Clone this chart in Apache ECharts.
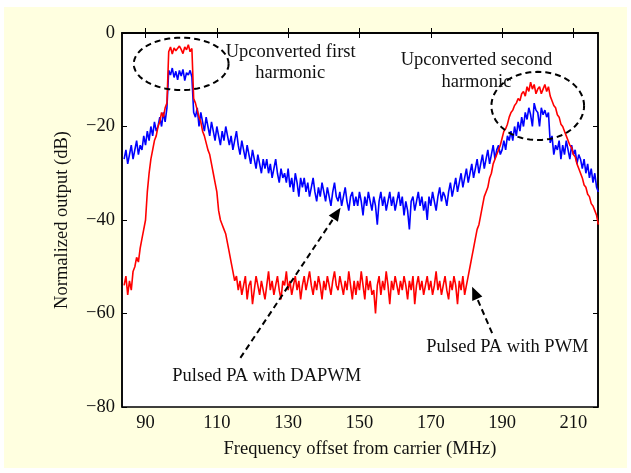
<!DOCTYPE html>
<html><head><meta charset="utf-8">
<script src="https://cdn.jsdelivr.net/npm/echarts@6/dist/echarts.min.js"></script>
<style>html,body{margin:0;padding:0;background:#fff}#c{width:631px;height:473px}</style>
</head><body><div id="c"></div>
<script>
// Spectrum sampled every 0.5 MHz from 84 MHz
const freqStart = 84, freqStep = 0.5;
// Pulsed PA with PWM (red), dB
const pwmDb = [
-54,-52,-56,-53,-55,-51,-50,-48,-49,-46,
-44,-42,-40,-34,-30,-27,-25,-23,-22,-20,
-19,-17,-18,-16,-15,-4,-3,-4.5,-3.2,-3.8,
-4.2,-2.8,-3.5,-4.4,-3,-3.6,-2.5,-4,-3.3,-14,
-15,-16.5,-18,-19,-21,-22,-23.5,-25,-26,-28,
-30,-32,-34,-38,-40,-41,-42,-43,-45,-47,
-49,-51,-53,-52,-55,-53,-56,-54,-52,-57,
-54,-53,-58,-55,-52,-54,-56,-53,-55,-57,
-54,-51,-55,-53,-56,-54,-52,-55,-57,-53,
-54,-51,-55,-53,-56,-54,-52,-55,-53,-57,
-54,-52,-55,-53,-51,-54,-56,-53,-55,-52,
-54,-57,-53,-55,-52,-54,-56,-53,-51,-54,
-55,-52,-54,-56,-53,-55,-51,-54,-57,-53,
-56,-53,-55,-51,-54,-57,-52,-55,-53,-56,
-55,-60,-54,-52,-56,-53,-55,-51,-54,-58,
-53,-55,-52,-54,-56,-53,-55,-52,-54,-57,
-53,-55,-52,-58,-54,-52,-55,-53,-56,-54,
-52,-55,-53,-56,-54,-51,-55,-53,-56,-54,
-52,-55,-57,-53,-55,-52,-54,-58,-53,-55,
-52,-56,-54,-52,-50,-48,-46,-44,-42,-41,
-39,-37,-35,-34,-33,-31,-30,-28,-27,-26,
-25,-24,-22.5,-21,-20.5,-19.5,-18,-17,-16.5,-15.5,
-15,-14,-14.5,-13,-12.5,-13.5,-11.5,-12.5,-10.5,-12,
-11,-13,-12,-11.5,-13,-12,-11,-12.5,-11.5,-13.5,
-14.5,-15.5,-16,-17.5,-18,-19.5,-20,-21,-22,-23,
-24,-24.5,-26,-26.5,-28,-29,-30,-31,-32.5,-33,
-34.5,-35,-36.5,-37,-38,-39,-41
];
// Pulsed PA with DAPWM (blue), dB
const dapwmDb = [
-27,-25,-28,-26,-24,-27,-25,-23,-26,-24,
-25,-22,-24,-21,-23,-20,-22,-19,-21,-20,
-18,-20,-17,-19,-16,-8,-9,-7.5,-9.5,-8.2,
-10,-8,-9.2,-7.8,-10.2,-8.5,-9,-8,-9.4,-17,
-18,-16,-20,-17,-19,-21,-18,-20,-22,-19,
-21,-23,-20,-22,-24,-21,-23,-20,-22,-24,
-22,-25,-23,-21,-24,-26,-23,-25,-27,-24,
-26,-28,-25,-27,-29,-26,-28,-30,-27,-29,
-27,-30,-28,-31,-29,-27,-30,-32,-29,-31,
-30,-32,-29,-33,-31,-34,-30,-32,-35,-31,
-33,-31,-34,-32,-35,-33,-31,-34,-36,-33,
-35,-32,-34,-36,-33,-35,-37,-34,-32,-35,
-36,-34,-37,-35,-33,-36,-38,-35,-34,-37,
-35,-37,-34,-36,-39,-35,-37,-34,-36,-38,
-35,-37,-41,-36,-34,-37,-35,-38,-36,-34,
-37,-35,-38,-36,-34,-37,-35,-39,-36,-38,
-42,-36,-35,-38,-36,-34,-37,-35,-38,-36,
-40,-35,-37,-34,-36,-38,-35,-33,-36,-34,
-35,-37,-34,-32,-35,-33,-31,-34,-32,-30,
-33,-31,-29,-32,-30,-28,-31,-29,-27,-30,
-28,-26,-29,-27,-25,-28,-26,-24,-27,-25,
-24,-26,-25,-23,-25,-22,-23,-21,-23,-20,
-22,-19,-21,-18,-20,-17,-18.5,-16,-17.5,-20,
-15,-16.5,-17,-20,-16,-17.5,-16.5,-18,-17,-23.5,
-22,-26,-24,-25,-23,-27,-24,-26,-23,-25,
-27,-24,-26,-25,-28,-26,-27,-29,-27,-30,
-28,-31,-29,-32,-30,-33,-34
];
const xTicks = [90, 110, 130, 150, 170, 190, 210];
const xRange = [83.4, 216.9];
const yRange = [-80, 0];
const yStep = 20;
// Annotations in data units
const ellipses = [
  {cx: 100, cy: -6.6, rx: 13.3, ry: 5.6},
  {cx: 200, cy: -15.6, rx: 13.0, ry: 7.3}
];
const arrows = [
  {from: [116.6, -69.5], to: [144.7, -37.4]},
  {from: [187.2, -64.2], to: [181.6, -54.3]}
];
const notes = [
  {text: 'Upconverted first', at: [130.7, -4.1]},
  {text: 'harmonic', at: [130.6, -8.5]},
  {text: 'Upconverted second', at: [182.8, -5.8]},
  {text: 'harmonic', at: [182.8, -10.5]},
  {text: 'Pulsed PA with DAPWM', at: [124.0, -73.4]},
  {text: 'Pulsed PA with PWM', at: [191.5, -67.2]}
];

const FONT = "'Liberation Serif','Times New Roman',serif";
const FS = 18.5;
const toPairs = arr => arr.map((v, i) => [freqStart + i * freqStep, v]);
const minus = v => String(v).replace('-', '\u2212');

const chart = echarts.init(document.getElementById('c'), null, {renderer: 'canvas'});
const axisLineStyle = {color: '#000', width: 1.5};
const option = {
  animation: false,
  backgroundColor: '#ffffff',
  graphic: [{type: 'rect', z: -10, silent: true, shape: {x: 4, y: 7, width: 623, height: 461}, style: {fill: '#FFFFE0'}}],
  grid: {left: 122, right: 33, top: 33, bottom: 66, show: true, backgroundColor: '#fff', borderColor: '#000', borderWidth: 1.5},
  xAxis: [
    {type: 'value', min: xRange[0], max: xRange[1], position: 'bottom',
     name: 'Frequency offset from carrier (MHz)', nameLocation: 'middle', nameGap: 33,
     nameTextStyle: {fontFamily: FONT, fontSize: FS, color: '#111'},
     axisLine: {lineStyle: axisLineStyle},
     axisTick: {inside: true, length: 5, customValues: xTicks, lineStyle: {color: '#000'}},
     axisLabel: {customValues: xTicks, fontFamily: FONT, fontSize: FS, color: '#111', margin: 7},
     splitLine: {show: false}},
    {type: 'value', min: xRange[0], max: xRange[1], position: 'top',
     axisLine: {lineStyle: axisLineStyle},
     axisTick: {inside: true, length: 5, customValues: xTicks, lineStyle: {color: '#000'}},
     axisLabel: {show: false, customValues: xTicks}, splitLine: {show: false}}
  ],
  yAxis: [
    {type: 'value', min: yRange[0], max: yRange[1], interval: yStep, position: 'left',
     name: 'Normalized output (dB)', nameLocation: 'middle', nameGap: 50,
     nameTextStyle: {fontFamily: FONT, fontSize: FS, color: '#111'},
     axisLine: {show: true, lineStyle: axisLineStyle},
     axisTick: {show: true, inside: true, length: 5, lineStyle: {color: '#000'}},
     axisLabel: {formatter: minus, fontFamily: FONT, fontSize: FS, color: '#111', margin: 7},
     splitLine: {show: false}},
    {type: 'value', min: yRange[0], max: yRange[1], interval: yStep, position: 'right',
     axisLine: {show: true, lineStyle: axisLineStyle},
     axisTick: {show: true, inside: true, length: 5, lineStyle: {color: '#000'}},
     axisLabel: {show: false}, splitLine: {show: false}}
  ],
  series: [
    {name: 'Pulsed PA with DAPWM', type: 'line', data: toPairs(dapwmDb), showSymbol: false,
     lineStyle: {color: '#0000FF', width: 1.6}, itemStyle: {color: '#0000FF'}, z: 2},
    {name: 'Pulsed PA with PWM', type: 'line', data: toPairs(pwmDb), showSymbol: false,
     lineStyle: {color: '#FF0000', width: 1.6}, itemStyle: {color: '#FF0000'}, z: 3}
  ]
};
chart.setOption(option);

// Annotations placed through the chart's own coordinate conversion
const px = p => chart.convertToPixel({xAxisIndex: 0, yAxisIndex: 0}, p);
const g = [option.graphic[0]];
ellipses.forEach(e => {
  const pts = [];
  for (let k = 0; k <= 72; k++) {
    const a = k / 72 * Math.PI * 2;
    pts.push(px([e.cx + e.rx * Math.cos(a), e.cy + e.ry * Math.sin(a)]));
  }
  g.push({type: 'polyline', z: 20, shape: {points: pts}, style: {stroke: '#000', lineWidth: 2, lineDash: [6, 4], fill: null}});
});
arrows.forEach(a => {
  const p0 = px(a.from), p1 = px(a.to);
  const dx = p1[0] - p0[0], dy = p1[1] - p0[1];
  const L = Math.hypot(dx, dy), ux = dx / L, uy = dy / L;
  const hl = 13, hw = 5.5;
  const base = [p1[0] - ux * hl, p1[1] - uy * hl];
  g.push({type: 'line', z: 20, shape: {x1: p0[0], y1: p0[1], x2: base[0], y2: base[1]},
          style: {stroke: '#000', lineWidth: 2, lineDash: [6, 4]}});
  g.push({type: 'polygon', z: 20, shape: {points: [p1, [base[0] - uy * hw, base[1] + ux * hw], [base[0] + uy * hw, base[1] - ux * hw]]},
          style: {fill: '#000'}});
});
notes.forEach(n => {
  const p = px(n.at);
  g.push({type: 'text', z: 21, x: p[0], y: p[1],
          style: {text: n.text, fontFamily: FONT, fontSize: FS, fill: '#111', align: 'center', verticalAlign: 'middle'}});
});
chart.setOption({graphic: g});
</script>
</body></html>
